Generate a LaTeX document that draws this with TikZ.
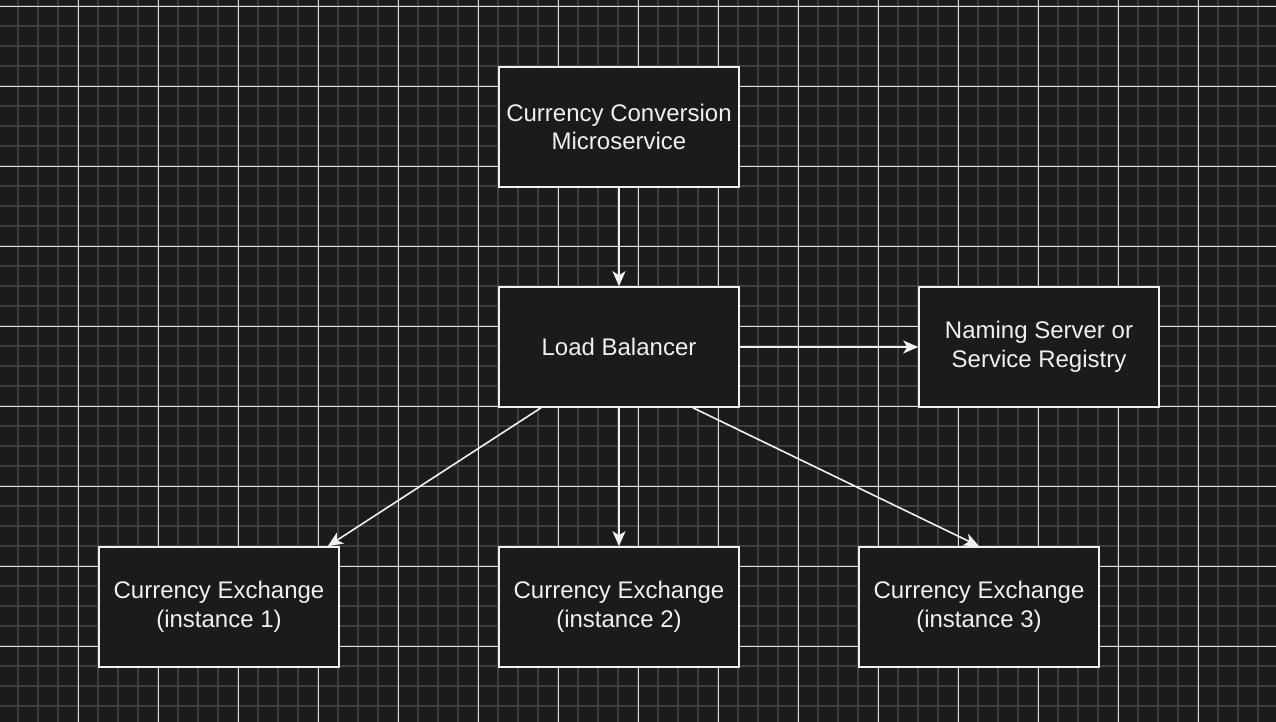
\documentclass[tikz,border=0pt]{standalone}
\usepackage{fontspec}
\setmainfont{Liberation Sans}
\usetikzlibrary{arrows.meta,calc}
\definecolor{bgc}{RGB}{26,27,29}
\definecolor{minorc}{RGB}{62,62,62}
\definecolor{majorc}{RGB}{222,222,222}
\definecolor{fg}{RGB}{240,240,240}
\tikzset{
  box/.style={draw=fg, fill=bgc, line width=1.6pt, minimum width=240pt, minimum height=120pt,
    inner sep=0pt, align=center, text=fg, font=\fontsize{24}{28.8}\selectfont},
  conn/.style={draw=fg, line width=1.6pt, -{Stealth[length=15pt,width=13pt,inset=4pt]}}
}
\begin{document}
\begin{tikzpicture}[x=1pt,y=-1pt]
\useasboundingbox (0,0) rectangle (1276,722);
\fill[bgc] (0,0) rectangle (1276,722);
\foreach \x in {18,38,...,1258} \draw[minorc, line width=2pt] (\x,0) -- (\x,722);
\foreach \y in {6,26,...,706} \draw[minorc, line width=2pt] (0,\y) -- (1276,\y);
\foreach \x in {78,158,...,1238} \draw[majorc, line width=0.9pt] (\x,0) -- (\x,722);
\foreach \y in {6,86,...,646} \draw[majorc, line width=0.9pt] (0,\y) -- (1276,\y);

\node[box] (cc) at (619,127) {Currency Conversion\\Microservice};
\node[box] (lb) at (619,347) {Load Balancer};
\node[box] (ns) at (1039,347) {Naming Server or\\Service Registry};
\node[box] (e1) at (219,607) {Currency Exchange\\(instance 1)};
\node[box] (e2) at (619,607) {Currency Exchange\\(instance 2)};
\node[box] (e3) at (979,607) {Currency Exchange\\(instance 3)};

\draw[conn] (cc.south) -- (lb.north);
\draw[conn] (lb.east) -- (ns.west);
\draw[conn] ($(lb.south)+(-78,0)$) -- ($(e1.north east)+(-12,0)$);
\draw[conn] (lb.south) -- (e2.north);
\draw[conn] ($(lb.south)+(74,0)$) -- (e3.north);
\end{tikzpicture}
\end{document}
